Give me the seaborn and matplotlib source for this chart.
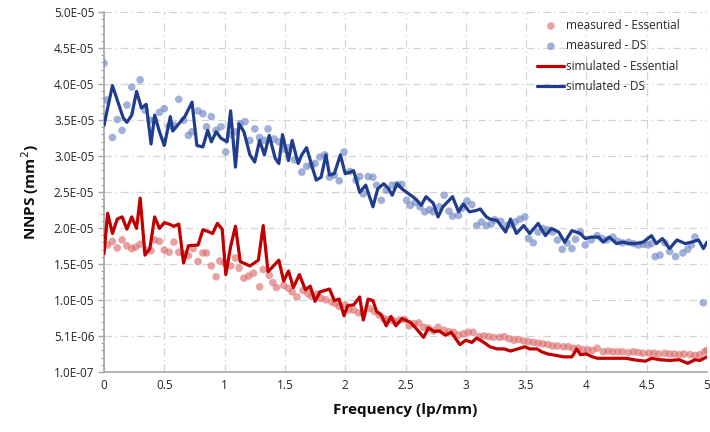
import numpy as np
import pandas as pd
import matplotlib
matplotlib.use("Agg")
import matplotlib.pyplot as plt
import seaborn as sns
from matplotlib.ticker import AutoMinorLocator

SCALE = 1e-5  # values below are in units of 1e-5 mm^2

# measured - Essential
meas_ess_f = [0.00, 0.03, 0.07, 0.11, 0.15, 0.19, 0.23, 0.26, 0.30, 0.35, 0.39, 0.42, 0.46, 0.50,
              0.54, 0.58, 0.62, 0.66, 0.70, 0.74, 0.78, 0.82, 0.85, 0.89, 0.93, 0.96, 1.00, 1.05,
              1.09, 1.12, 1.16, 1.20, 1.24, 1.29, 1.32, 1.37, 1.40, 1.43, 1.49, 1.53, 1.56, 1.60,
              1.65, 1.69, 1.72, 1.77, 1.80, 1.84, 1.89, 1.92, 1.95, 2.00, 2.03, 2.07, 2.11, 2.15,
              2.20, 2.24, 2.28, 2.32, 2.36, 2.40, 2.45, 2.49, 2.53, 2.57, 2.61, 2.65, 2.69, 2.73,
              2.77, 2.82, 2.86, 2.90, 2.94, 2.98, 3.02, 3.06, 3.11, 3.15, 3.19, 3.23, 3.28, 3.32,
              3.36, 3.40, 3.44, 3.48, 3.52, 3.56, 3.60, 3.64, 3.68, 3.72, 3.76, 3.81, 3.85, 3.89,
              3.93, 3.97, 4.01, 4.05, 4.09, 4.14, 4.18, 4.22, 4.26, 4.30, 4.35, 4.39, 4.43, 4.47,
              4.52, 4.56, 4.60, 4.65, 4.69, 4.73, 4.77, 4.81, 4.86, 4.90, 4.94, 4.98, 5.00]
meas_ess_v = [1.96, 1.77, 1.82, 1.73, 1.84, 1.76, 1.72, 1.74, 1.78, 1.70, 1.69, 1.84, 1.82, 1.70,
              1.67, 1.81, 1.67, 1.65, 1.62, 1.72, 1.54, 1.66, 1.66, 1.48, 1.33, 1.55, 1.52, 1.48,
              1.59, 1.45, 1.31, 1.34, 1.38, 1.19, 1.43, 1.35, 1.25, 1.18, 1.21, 1.17, 1.12, 1.05,
              1.14, 1.10, 1.06, 1.09, 1.03, 1.01, 0.98, 0.96, 0.92, 0.94, 0.87, 0.87, 0.83, 0.82,
              0.89, 0.85, 0.80, 0.75, 0.74, 0.72, 0.73, 0.74, 0.65, 0.68, 0.69, 0.63, 0.62, 0.58,
              0.63, 0.59, 0.57, 0.56, 0.52, 0.54, 0.56, 0.56, 0.50, 0.51, 0.50, 0.49, 0.49, 0.50,
              0.47, 0.45, 0.46, 0.44, 0.43, 0.42, 0.41, 0.40, 0.39, 0.37, 0.37, 0.36, 0.36, 0.34,
              0.34, 0.32, 0.32, 0.31, 0.34, 0.29, 0.30, 0.29, 0.29, 0.29, 0.28, 0.29, 0.28, 0.27,
              0.27, 0.27, 0.26, 0.27, 0.26, 0.26, 0.25, 0.26, 0.25, 0.24, 0.25, 0.29, 0.31]

# measured - DS
meas_ds_f = [0.00, 0.02, 0.07, 0.11, 0.15, 0.19, 0.23, 0.30, 0.34, 0.38, 0.42, 0.46, 0.50, 0.54,
             0.58, 0.62, 0.66, 0.70, 0.73, 0.78, 0.82, 0.85, 0.89, 0.93, 0.97, 1.01, 1.05, 1.09,
             1.13, 1.17, 1.21, 1.25, 1.29, 1.33, 1.36, 1.41, 1.45, 1.49, 1.53, 1.58, 1.64, 1.68,
             1.72, 1.75, 1.79, 1.83, 1.87, 1.91, 1.95, 1.99, 2.04, 2.09, 2.12, 2.15, 2.19, 2.23,
             2.26, 2.30, 2.34, 2.39, 2.43, 2.47, 2.51, 2.54, 2.58, 2.62, 2.66, 2.70, 2.73, 2.78,
             2.82, 2.86, 2.89, 2.94, 2.97, 3.01, 3.05, 3.09, 3.13, 3.17, 3.21, 3.24, 3.29, 3.34,
             3.37, 3.41, 3.45, 3.49, 3.52, 3.56, 3.60, 3.64, 3.68, 3.72, 3.76, 3.80, 3.84, 3.88,
             3.91, 3.95, 3.99, 4.04, 4.09, 4.13, 4.17, 4.22, 4.26, 4.30, 4.35, 4.39, 4.43, 4.47,
             4.51, 4.54, 4.57, 4.61, 4.65, 4.69, 4.74, 4.80, 4.84, 4.87, 4.90, 4.97]
meas_ds_v = [4.29, 3.78, 3.26, 3.51, 3.36, 3.71, 3.96, 4.06, 3.64, 3.50, 3.50, 3.61, 3.66, 3.42,
             3.43, 3.79, 3.50, 3.29, 3.34, 3.63, 3.59, 3.41, 3.55, 3.36, 3.41, 3.06, 3.30, 3.34,
             3.45, 3.48, 3.22, 3.38, 3.26, 3.22, 3.38, 3.24, 3.20, 3.10, 3.12, 2.95, 2.78, 2.86,
             2.88, 2.90, 2.99, 3.02, 2.71, 2.74, 2.66, 3.06, 2.79, 2.67, 2.72, 2.48, 2.72, 2.71,
             2.60, 2.39, 2.53, 2.60, 2.61, 2.61, 2.39, 2.32, 2.36, 2.30, 2.23, 2.26, 2.23, 2.30,
             2.46, 2.24, 2.17, 2.18, 2.28, 2.38, 2.33, 2.04, 2.09, 2.04, 2.06, 2.12, 2.10, 2.04,
             2.06, 2.09, 2.13, 2.16, 1.86, 1.80, 1.95, 2.00, 1.98, 1.95, 1.84, 1.71, 1.80, 1.72,
             1.85, 1.95, 1.77, 1.84, 1.90, 1.86, 1.84, 1.88, 1.82, 1.80, 1.81, 1.79, 1.77, 1.78,
             1.77, 1.79, 1.61, 1.63, 1.80, 1.68, 1.61, 1.66, 1.71, 1.77, 1.88, 0.97]

# simulated - Essential
sim_ess_f = [0.00, 0.03, 0.07, 0.11, 0.15, 0.19, 0.23, 0.27, 0.30, 0.34, 0.38, 0.42, 0.46, 0.50,
             0.54, 0.58, 0.62, 0.66, 0.70, 0.78, 0.82, 0.86, 0.90, 0.94, 0.98, 1.01, 1.05, 1.09,
             1.13, 1.21, 1.28, 1.32, 1.36, 1.45, 1.49, 1.53, 1.57, 1.62, 1.67, 1.71, 1.75, 1.79,
             1.87, 1.91, 1.95, 1.99, 2.02, 2.07, 2.12, 2.15, 2.19, 2.23, 2.26, 2.30, 2.34, 2.38,
             2.42, 2.47, 2.54, 2.59, 2.65, 2.69, 2.74, 2.78, 2.83, 2.88, 2.95, 3.00, 3.05, 3.09,
             3.15, 3.20, 3.26, 3.32, 3.37, 3.45, 3.49, 3.53, 3.59, 3.63, 3.68, 3.75, 3.81, 3.88,
             3.92, 3.95, 4.00, 4.05, 4.09, 4.15, 4.22, 4.33, 4.39, 4.49, 4.54, 4.61, 4.69, 4.77,
             4.84, 4.90, 4.94, 5.00]
sim_ess_v = [1.65, 2.21, 1.93, 2.13, 2.16, 1.99, 2.16, 2.00, 2.42, 1.63, 1.72, 2.16, 2.00, 2.08,
             2.06, 2.03, 2.06, 1.52, 1.76, 1.77, 1.98, 1.96, 1.93, 2.07, 1.99, 1.36, 1.75, 2.03,
             1.54, 1.48, 1.56, 2.04, 1.40, 1.56, 1.27, 1.41, 1.18, 1.36, 1.15, 1.20, 0.99, 1.12,
             1.16, 1.00, 1.02, 0.79, 0.93, 0.94, 1.05, 0.73, 1.02, 1.00, 0.85, 0.80, 0.65, 0.78,
             0.65, 0.75, 0.70, 0.61, 0.49, 0.62, 0.57, 0.58, 0.52, 0.56, 0.39, 0.45, 0.42, 0.48,
             0.42, 0.36, 0.33, 0.33, 0.30, 0.34, 0.36, 0.33, 0.33, 0.29, 0.26, 0.24, 0.22, 0.22,
             0.33, 0.25, 0.26, 0.22, 0.20, 0.20, 0.20, 0.20, 0.18, 0.16, 0.20, 0.18, 0.17, 0.18,
             0.13, 0.18, 0.17, 0.22]

# simulated - DS
sim_ds_f = [0.00, 0.07, 0.16, 0.19, 0.23, 0.27, 0.31, 0.35, 0.39, 0.42, 0.46, 0.50, 0.55, 0.57,
            0.67, 0.73, 0.77, 0.82, 0.86, 0.89, 0.93, 0.97, 1.02, 1.05, 1.09, 1.12, 1.16, 1.21,
            1.25, 1.29, 1.33, 1.37, 1.42, 1.45, 1.48, 1.53, 1.56, 1.61, 1.64, 1.68, 1.73, 1.76,
            1.80, 1.84, 1.87, 1.91, 1.96, 2.00, 2.04, 2.07, 2.12, 2.17, 2.23, 2.27, 2.32, 2.36,
            2.39, 2.43, 2.47, 2.51, 2.56, 2.59, 2.63, 2.67, 2.73, 2.77, 2.81, 2.89, 2.94, 2.98,
            3.03, 3.09, 3.12, 3.17, 3.20, 3.26, 3.33, 3.37, 3.42, 3.48, 3.53, 3.60, 3.66, 3.71,
            3.77, 3.82, 3.88, 3.95, 3.99, 4.04, 4.10, 4.14, 4.19, 4.25, 4.30, 4.36, 4.41, 4.47,
            4.54, 4.58, 4.63, 4.69, 4.75, 4.82, 4.87, 4.93, 4.97, 5.00]
sim_ds_v = [3.43, 3.98, 3.53, 3.47, 3.57, 3.90, 3.67, 3.72, 3.17, 3.57, 3.34, 3.15, 3.55, 3.35,
            3.55, 3.75, 3.15, 3.13, 3.36, 3.20, 3.34, 3.25, 3.20, 3.63, 2.85, 3.45, 3.34, 3.02,
            2.92, 3.22, 3.02, 3.29, 2.97, 2.90, 3.30, 2.94, 3.22, 2.90, 3.02, 3.12, 2.83, 2.67,
            2.71, 3.02, 2.74, 2.76, 3.02, 2.76, 2.78, 2.80, 2.50, 2.60, 2.30, 2.55, 2.62, 2.55,
            2.46, 2.62, 2.55, 2.50, 2.44, 2.40, 2.32, 2.44, 2.35, 2.16, 2.30, 2.44, 2.23, 2.34,
            2.23, 2.25, 2.27, 2.16, 2.13, 2.11, 1.95, 2.13, 1.93, 2.04, 1.93, 2.07, 1.90, 2.00,
            1.95, 1.81, 1.97, 1.93, 1.86, 1.88, 1.88, 1.81, 1.88, 1.79, 1.81, 1.79, 1.79, 1.81,
            1.90, 1.79, 1.86, 1.72, 1.84, 1.79, 1.81, 1.84, 1.72, 1.81]

labels = ["measured - Essential", "measured - DS", "simulated - Essential", "simulated - DS"]
x_ticks = [0, 0.5, 1, 1.5, 2, 2.5, 3, 3.5, 4, 4.5, 5]
x_tick_labels = ["0", "0.5", "1", "1.5", "2", "2.5", "3", "3.5", "4", "4.5", "5"]

sns.set_theme(style="white")
plt.rcParams['font.family'] = ['Open Sans', 'DejaVu Sans']

fig = plt.figure(figsize=(7.1, 4.32), dpi=100)
ax = fig.add_axes([104/710, 1-372/432, (707-104)/710, (372-12)/432])

def frame(f, v):
    return pd.DataFrame({"f": f, "v": np.asarray(v) * SCALE})

sns.scatterplot(data=frame(meas_ess_f, meas_ess_v), x="f", y="v", ax=ax, color="#DC6E6E",
                alpha=0.65, s=30, edgecolor="none", label=labels[0], zorder=3)
sns.scatterplot(data=frame(meas_ds_f, meas_ds_v), x="f", y="v", ax=ax, color="#6E86C4",
                alpha=0.65, s=30, edgecolor="none", label=labels[1], zorder=3)
sns.lineplot(data=frame(sim_ess_f, sim_ess_v), x="f", y="v", ax=ax, color="#C00000",
             lw=2.3, sort=False, estimator=None, label=labels[2], zorder=4)
sns.lineplot(data=frame(sim_ds_f, sim_ds_v), x="f", y="v", ax=ax, color="#1F3D8C",
             lw=2.3, sort=False, estimator=None, label=labels[3], zorder=4)

ymin, ymax = 1e-7, 5e-5
yt = np.linspace(ymin, ymax, 11)
ax.set_xlim(0, 5)
ax.set_ylim(ymin, ymax)
ax.set_xticks(x_ticks)
ax.set_xticklabels(x_tick_labels)
ax.set_yticks(yt)
ax.set_yticklabels(["{:.1E}".format(t) for t in yt])
ax.yaxis.set_minor_locator(AutoMinorLocator(5))

ax.grid(True, which="major", color="#D3D3D3", linestyle=(0, (6, 3, 1, 3)), lw=0.9)
for s in ["top", "right"]:
    ax.spines[s].set_visible(False)
for s in ["left", "bottom"]:
    ax.spines[s].set_color("#A6A6A6")
    ax.spines[s].set_linewidth(1.2)

ax.tick_params(axis="y", which="major", direction="out", length=4, width=1, color="#A6A6A6",
               labelsize=8.5, labelcolor="#262626", pad=3, left=True)
ax.tick_params(axis="y", which="minor", direction="out", length=2.5, width=0.8, color="#A6A6A6", left=True)
ax.tick_params(axis="x", which="major", length=0, labelsize=8.5, labelcolor="#262626", pad=5)

ax.set_xlabel("Frequency (lp/mm)", fontsize=11, fontweight="bold", color="#0D0D0D", labelpad=8)
ax.set_ylabel("NNPS (mm$^2$)", fontsize=11, fontweight="bold", color="#0D0D0D", labelpad=9)

leg = ax.legend(loc="upper right", bbox_to_anchor=(0.966, 1.0), frameon=False, fontsize=8.5,
                handlelength=2.3, handletextpad=0.1, labelspacing=0.62, borderaxespad=0.2)
for t in leg.get_texts():
    t.set_color("#262626")

fig.savefig("out.png", dpi=100)
